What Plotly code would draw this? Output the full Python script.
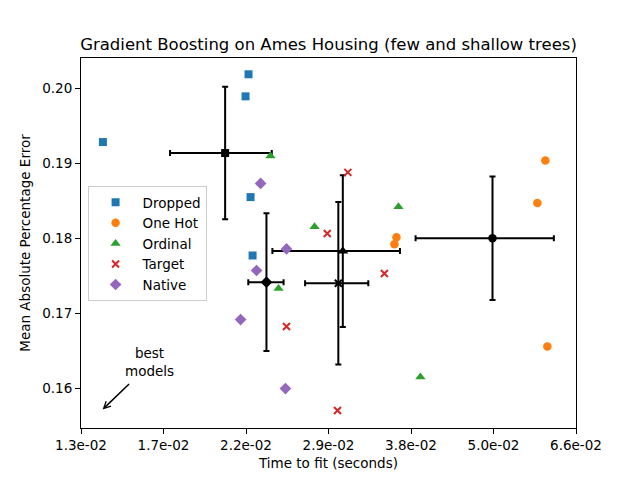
import numpy as np
import plotly.graph_objects as go

# ---- data ----
encoders = ["Dropped", "One Hot", "Ordinal", "Target", "Native"]

fit_time_dropped = [0.01397, 0.02253, 0.02231, 0.02268, 0.02283]
fit_time_onehot = [0.05969, 0.05814, 0.03661, 0.03637, 0.06008]
fit_time_ordinal = [0.02421, 0.02798, 0.03685, 0.02486, 0.03960]
fit_time_target = [0.03121, 0.02917, 0.03519, 0.02552, 0.03017]
fit_time_native = [0.02344, 0.02552, 0.02313, 0.02195, 0.02543]

mape_dropped = [0.19284, 0.20187, 0.19893, 0.18551, 0.17773]
mape_onehot = [0.19040, 0.18471, 0.18017, 0.17924, 0.16560]
mape_ordinal = [0.19097, 0.18155, 0.18421, 0.17333, 0.16155]
mape_target = [0.18880, 0.18067, 0.17533, 0.16827, 0.15707]
mape_native = [0.18733, 0.17861, 0.17573, 0.16920, 0.16000]

x_tick_min = 0.013
x_tick_max = 0.066
x_tick_labels = ["1.3e-02", "1.7e-02", "2.2e-02", "2.9e-02", "3.8e-02", "5.0e-02", "6.6e-02"]
y_ticks = [0.16, 0.17, 0.18, 0.19, 0.20]
y_range = [0.15475, 0.20404]

# ---- styles ----
colors = ["#1f77b4", "#ff7f0e", "#2ca02c", "#d62728", "#9467bd"]
symbols = ["square", "circle", "triangle-up", "x-thin", "diamond"]
sizes = [8, 8.5, 9, 7, 9]
mean_sizes = [8, 8.5, 9.5, 7, 9]

times = [fit_time_dropped, fit_time_onehot, fit_time_ordinal, fit_time_target, fit_time_native]
scores = [mape_dropped, mape_onehot, mape_ordinal, mape_target, mape_native]

FONT = "DejaVu Sans"
fig = go.Figure()

for name, t, s, c, sym, sz, msz in zip(encoders, times, scores, colors, symbols, sizes, mean_sizes):
    is_x = sym == "x-thin"
    fig.add_trace(go.Scatter(
        x=t, y=s, mode="markers", name=name,
        marker=dict(symbol=sym, size=sz, color=c,
                    line=dict(color=c, width=2 if is_x else 0)),
    ))
    t_arr = np.array(t)
    s_arr = np.array(s)
    fig.add_trace(go.Scatter(
        x=[t_arr.mean()], y=[s_arr.mean()], mode="markers", showlegend=False,
        marker=dict(symbol=sym, size=msz, color="black",
                    line=dict(color="black", width=2 if is_x else 0)),
        error_x=dict(type="data", array=[t_arr.std()], color="black", thickness=2, width=3),
        error_y=dict(type="data", array=[s_arr.std()], color="black", thickness=2, width=3),
    ))

x_ticks = list(np.geomspace(x_tick_min, x_tick_max, len(x_tick_labels)))

axis_common = dict(
    showline=True, linecolor="black", linewidth=1, mirror=True,
    ticks="outside", ticklen=5, tickwidth=1, tickcolor="black",
    showgrid=False, zeroline=False, automargin=False,
    tickfont=dict(family=FONT, size=13.5, color="black"),
)

# the page body adds an 8px offset; margins are shifted to compensate
fig.update_layout(
    width=640, height=480,
    margin=dict(l=73, r=72, t=50, b=60, autoexpand=False),
    paper_bgcolor="white", plot_bgcolor="white",
    font=dict(family=FONT, color="black"),
    title=dict(text="Gradient Boosting on Ames Housing (few and shallow trees)",
               x=0.5, xref="paper", xanchor="center", y=1 - 36 / 480, yanchor="middle",
               font=dict(family=FONT, size=16.5, color="black")),
    xaxis=dict(type="log", range=[np.log10(x_tick_min), np.log10(x_tick_max)],
               tickvals=x_ticks, ticktext=x_tick_labels,
               title=dict(text="Time to fit (seconds)", standoff=6,
                          font=dict(family=FONT, size=13.5, color="black")),
               **axis_common),
    yaxis=dict(range=y_range, tickvals=y_ticks, tickformat=".2f",
               title=dict(text="Mean Absolute Percentage Error", standoff=8,
                          font=dict(family=FONT, size=13.5, color="black")),
               **axis_common),
    legend=dict(x=0.0133, y=0.654, xanchor="left", yanchor="top",
                bgcolor="rgba(255,255,255,0.8)", bordercolor="#cccccc", borderwidth=1,
                itemwidth=44,
                font=dict(family=FONT, size=13.5, color="black")),
    showlegend=True,
)

# arrow (no text) pointing to the lower-left corner
fig.add_annotation(
    xref="paper", yref="paper", x=0.0436, y=0.05,
    ax=28, ay=-27, axref="pixel", ayref="pixel",
    text="", showarrow=True,
    arrowhead=5, arrowsize=0.9, arrowwidth=1.5, arrowcolor="black",
)
fig.add_annotation(
    xref="paper", yref="paper", x=0.139, y=0.178,
    xanchor="center", yanchor="middle", showarrow=False,
    text="best<br>models", align="center",
    font=dict(family=FONT, size=13.5, color="black"),
)

fig.write_html("out.html")
